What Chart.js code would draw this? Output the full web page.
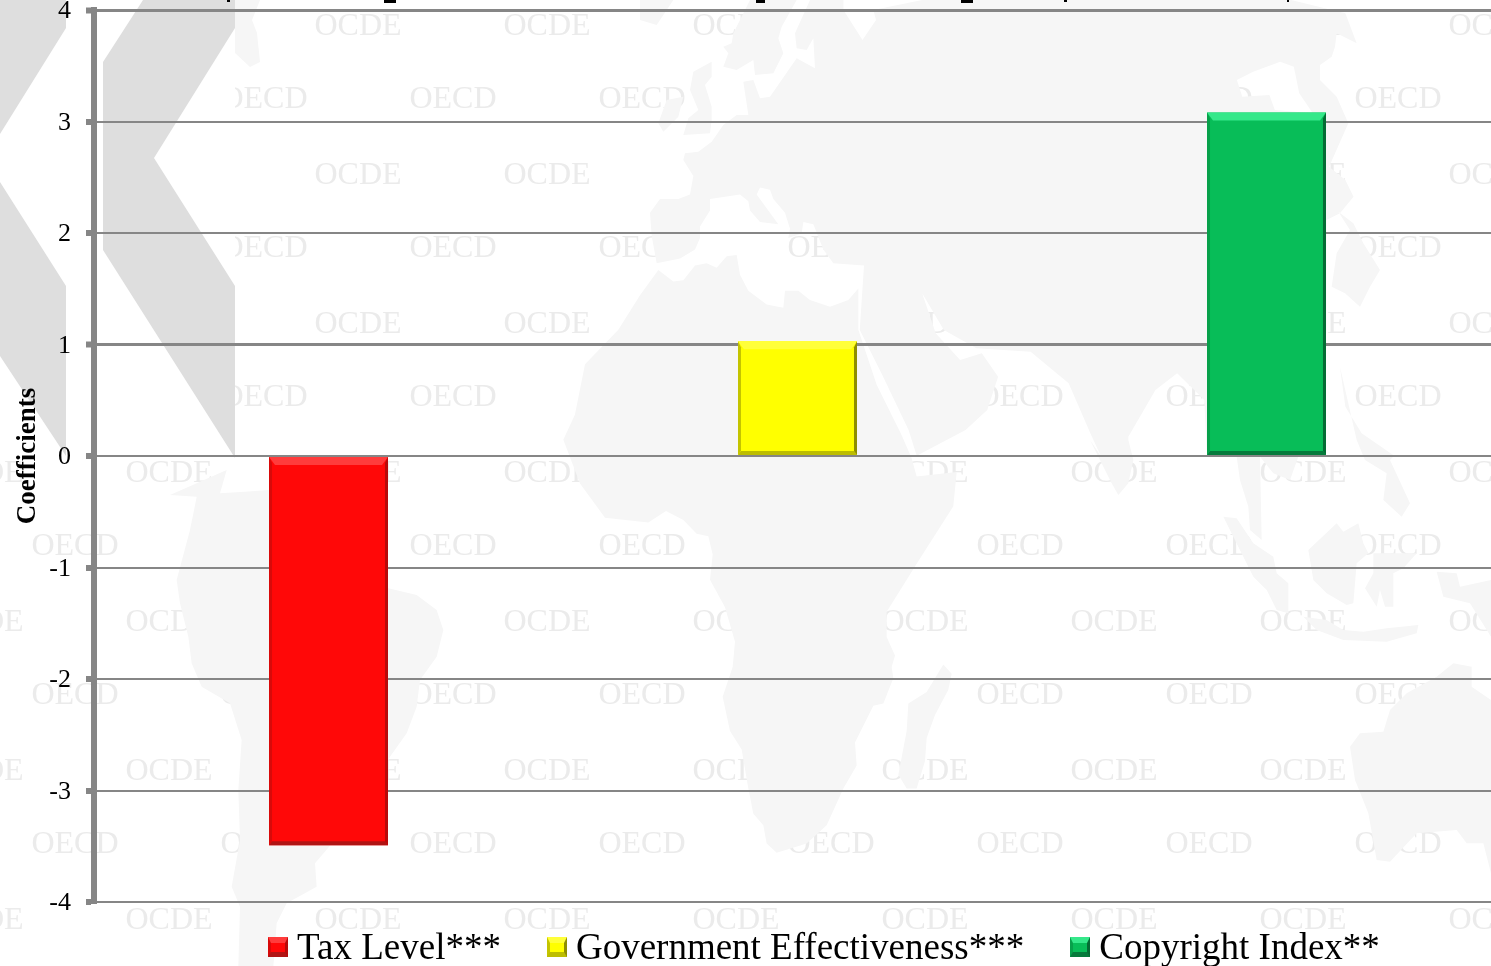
<!DOCTYPE html>
<html>
<head>
<meta charset="utf-8">
<title>Coefficients</title>
<script src="https://cdn.jsdelivr.net/npm/chart.js@4"></script>
<style>
html,body{margin:0;padding:0;width:1491px;height:966px;overflow:hidden;background:#fff;}
#chartBox{position:absolute;left:0;top:-30px;width:1520px;height:1000px;}
#legend{position:absolute;left:268px;top:924px;display:flex;gap:46px;white-space:nowrap;
  font-family:"Liberation Serif",serif;font-size:37px;line-height:46px;color:#000;}
#legend .item{display:flex;align-items:center;}
#legend .box{width:20px;height:20px;box-sizing:border-box;margin-right:9px;border-style:solid;border-width:6px 3px 5px 3px;}
</style>
</head>
<body>
<div id="chartBox"><canvas id="coefChart" width="1520" height="1000"></canvas></div>
<div id="legend"></div>
<script>
// chart data
const categories=["Tax Level***","Government Effectiveness***","Copyright Index**"];
const coefficients=[-3.49,1.03,3.08];
const yTicks=[4,3,2,1,0,-1,-2,-3,-4];
const yTitle="Coefficients";

// bar colours: face, top, bottom, left, right
const faceColors=["#ff0808","#ffff00","#08bd58"];
const topColors=["#ff3c3c","#ffff3a","#35e88a"];
const bottomColors=["#b01414","#bdbd00","#067a3c"];
const leftColors=["#d80a0a","#c4c400","#07a04a"];
const rightColors=["#b80a0a","#8e8e00","#056b34"];

const GRID="#868686";
const OFFSET_Y=30; // canvas sits 30px above the page so the clipped "4" works

// watermark / map helpers (page coordinates)
function zoomPts(ox,oy,sx,sy,pts){
  return pts.map(p=>[ox+p[0]/sx,oy+p[1]/sy]);
}
const z6=pts=>zoomPts(130,440,3,3,pts);
const z7=pts=>zoomPts(540,160,3,2.18,pts);
const z8=pts=>zoomPts(640,0,1.843,3,pts);
const z9=pts=>zoomPts(1040,440,3,3,pts);
const zA=pts=>zoomPts(640,10,3,3,pts);
const zB=pts=>zoomPts(1320,10,3,3,pts);

const africa=z7([[355,240],[300,295],[235,370],[135,445],[105,555],[70,610],[120,705],[195,780],[325,790],[378,765],[430,785],[470,815],[505,820],[518,860],[510,915],[555,975],[585,1050],[578,1105],[548,1170],[570,1245],[605,1285],[625,1370],[640,1425],[670,1450],[680,1490],[710,1510],[800,1490],[860,1450],[910,1370],[950,1320],[945,1270],[1000,1190],[1030,1185],[1060,1130],[1055,1105],[1065,1080],[1040,1040],[1040,985],[1130,880],[1240,755],[1250,680],[1130,690],[1115,650],[1085,600],[1010,490],[955,370],[955,280],[925,305],[870,320],[810,305],[775,285],[735,285],[730,322],[680,315],[625,285],[600,250],[590,207],[560,210],[530,235],[500,225],[465,230],[430,262],[400,265]]);
const madagascar=z7([[1105,1185],[1160,1160],[1210,1100],[1235,1120],[1225,1155],[1185,1210],[1160,1260],[1155,1310],[1130,1370],[1100,1370],[1075,1340],[1100,1245]]);
const eurasia=[].concat(
  z7([[350,225],[335,165],[330,115],[360,85],[415,85],[450,75],[460,35],[430,0]]),
  zA([[135,430],[175,425],[215,395],[250,345],[290,315],[325,315],[310,215],[340,210],[360,265],[390,260],[470,145],[525,175],[520,85],[500,120],[470,115],[465,70],[510,-30]]),
  z8([[375,0],[375,30],[410,120],[435,60],[430,30],[520,0],[1200,0],[1300,40]]),
  zB([[110,100],[50,70],[45,110],[35,140],[0,165],[0,210],[50,260],[85,340]]),
  z8([[1270,500],[1300,540],[1315,590],[1290,640],[1265,660],[1265,1000],[1200,1100]]),
  z9([[775,50],[750,120],[700,100],[660,50],[665,300],[630,270],[625,200],[600,120],[590,50],[500,30]]),
  z8([[1040,1200],[990,1120],[950,1170],[900,1310],[900,1367]]),
  z9([[265,0],[280,60],[265,130],[235,165],[215,130],[150,0]]),
  z8([[850,1370],[830,1300],[790,1150],[720,1055],[620,1045],[560,990],[520,880],[545,1000],[590,1080],[630,1060],[660,1130],[640,1230],[600,1290],[510,1367],[495,1290],[445,1120],[405,990]]),
  z7([[972,230],[880,225],[850,195],[820,140],[790,135],[785,160],[745,170],[750,150],[735,115],[700,85],[690,65],[660,60],[650,75],[680,105],[715,140],[660,135],[630,110],[625,90],[600,75],[510,85],[510,110],[480,145],[480,170],[465,195],[420,215]])
);
const bayHole=z8([[1100,240],[1130,215],[1180,185],[1205,200],[1215,280],[1240,340],[1170,330],[1160,285],[1110,290]]);
const scandinavia=zA([[250,170],[290,180],[340,150],[345,195],[400,190],[430,130],[415,85],[425,50],[470,-30],[330,-30],[280,70],[275,100],[250,110],[265,130]]);
const britain=zA([[160,185],[215,155],[215,200],[195,225],[215,290],[215,330],[210,370],[130,375],[145,325],[175,300],[150,240]]);
const ireland=zA([[80,270],[130,260],[115,320],[70,365],[55,340]]);
const iceland=zA([[0,30],[50,45],[100,-30],[0,-30]]);
const japan=zB([[55,605],[100,640],[130,700],[180,780],[150,830],[120,890],[75,850],[35,830],[50,730],[90,660]]);
const philippines=[].concat(
  z8([[1290,1100],[1300,1220],[1330,1300],[1390,1367]]),
  z9([[1050,60],[1110,190],[1085,230],[1030,180],[1040,100],[975,60],[950,0]])
);
const sumatra=z9([[550,230],[590,235],[640,310],[700,350],[710,400],[745,430],[745,520],[710,510],[680,450],[640,410]]);
const borneo=z9([[805,330],[890,250],[910,275],[955,250],[970,310],[985,340],[950,370],[940,490],[920,495],[860,460],[820,420]]);
const sulawesi=z9([[1000,340],[1130,340],[1090,385],[1060,400],[1060,500],[1035,500],[1020,450],[1010,500],[975,445],[1000,400]]);
const java=z9([[790,530],[860,540],[910,570],[970,575],[1040,565],[1135,555],[1130,580],[1040,605],[910,600],[830,570]]);
const guinea=z9([[1190,395],[1250,400],[1260,440],[1353,420],[1353,590],[1290,490],[1210,470]]);
const australia=z9([[1353,780],[1295,740],[1295,680],[1240,670],[1190,710],[1100,760],[1050,810],[1030,875],[960,880],[930,920],[945,1020],[985,1120],[1010,1260],[1050,1265],[1130,1180],[1250,1170],[1280,1210],[1330,1210],[1353,1300]]);
const america=z6([[50,100],[120,165],[200,130],[290,90],[270,160],[345,155],[415,150],[775,445],[860,465],[920,510],[940,570],[920,650],[870,720],[860,800],[830,880],[780,950],[700,1100],[555,1270],[560,1340],[470,1390],[440,1450],[430,1580],[325,1580],[330,1400],[305,1340],[330,1200],[325,1050],[335,900],[300,790],[215,740],[185,670],[175,590],[150,490],[140,420],[180,270],[200,170],[120,165]]);
const northAmerica=[[260,0],[252,20],[257,33],[260,62],[250,67],[235,53],[235,0]];
const landParts=[africa,madagascar,eurasia,bayHole,scandinavia,britain,ireland,iceland,japan,philippines,sumatra,borneo,sulawesi,java,guinea,australia,america,northAmerica];

const chevrons=[
  [[143,0],[235,0],[235,28],[154,158],[235,286],[235,458],[103,250],[103,62]],
  [[0,0],[66,0],[66,28],[0,134],[0,182],[66,286],[66,456],[0,356]]
];
// bits of the cut-off title at the very top edge
const titleScraps=[[384,0,12,3],[756,0,9,3],[961,0,12,3],[1064,0,3,2],[227,0,3,2],[1287,0,2,2]];

function tracePoly(ctx,pts){
  pts.forEach((p,i)=>i?ctx.lineTo(p[0],p[1]):ctx.moveTo(p[0],p[1]));
  ctx.closePath();
}

const backdropPlugin={
  id:"backdrop",
  beforeDraw(chart){
    const ctx=chart.ctx;
    ctx.save();
    ctx.translate(0,OFFSET_Y);
    ctx.font='32px "Liberation Serif"';
    ctx.textAlign="center";
    ctx.textBaseline="middle";
    ctx.fillStyle="#ebebeb";
    for(let r=0;r<7;r++){
      for(let c=-1;c<8;c++){
        ctx.fillText("OCDE",169+c*189,27+r*149);
      }
    }
    for(let r=0;r<6;r++){
      for(let c=0;c<8;c++){
        ctx.fillText("OECD",75+c*189,100+r*149);
      }
    }
    ctx.fillStyle="#f6f6f6";
    ctx.beginPath();
    landParts.forEach(p=>tracePoly(ctx,p));
    ctx.fill("evenodd");
    // logo block top left
    ctx.fillStyle="#ffffff";
    ctx.fillRect(0,0,235,456);
    ctx.fillStyle="#dedede";
    chevrons.forEach(p=>{
      ctx.beginPath();
      tracePoly(ctx,p);
      ctx.fill();
    });
    ctx.fillStyle="#000000";
    titleScraps.forEach(s=>ctx.fillRect(s[0],s[1],s[2],s[3]));
    ctx.restore();
  }
};

// bevel on the bars, taken from where the library put them
const bevelPlugin={
  id:"bevel",
  afterDatasetsDraw(chart){
    const ctx=chart.ctx;
    chart.getDatasetMeta(0).data.forEach((bar,i)=>{
      const b=bar.getProps(["x","y","base","width"],true);
      const l=b.x-b.width/2, r=b.x+b.width/2;
      const t=Math.min(b.y,b.base), m=Math.max(b.y,b.base);
      const band=(pts,col)=>{
        ctx.fillStyle=col;
        ctx.beginPath();
        tracePoly(ctx,pts);
        ctx.fill();
      };
      band([[l,t],[r,t],[r-6,t+8],[l+6,t+8]],topColors[i]);
      band([[l,m],[r,m],[r-3,m-4],[l+3,m-4]],bottomColors[i]);
      band([[l,t],[l+3,t+6],[l+3,m-4],[l,m]],leftColors[i]);
      band([[r,t],[r-3,t+6],[r-3,m-4],[r,m]],rightColors[i]);
    });
  }
};

new Chart(document.getElementById("coefChart"),{
  type:"bar",
  data:{
    labels:categories,
    datasets:[{
      data:coefficients,
      backgroundColor:faceColors,
      borderWidth:0,
      barPercentage:0.2537,
      categoryPercentage:1
    }]
  },
  options:{
    responsive:false,
    animation:false,
    layout:{padding:{top:40,bottom:68,left:0,right:19}},
    plugins:{legend:{display:false},tooltip:{enabled:false}},
    scales:{
      x:{display:false},
      y:{
        min:-4,
        max:4,
        afterFit(scale){scale.width=94;},
        afterBuildTicks(scale){scale.ticks=yTicks.map(v=>({value:v}));},
        border:{color:GRID,width:6},
        grid:{
          color:GRID,
          lineWidth:c=>(c.tick&&(c.tick.value===4||c.tick.value===1))?3:2,
          tickColor:GRID,
          tickWidth:6,
          tickLength:8
        },
        ticks:{
          color:"#000",
          padding:15,
          labelOffset:1.5,
          font:{family:'"Liberation Serif"',size:26}
        },
        title:{
          display:true,
          text:yTitle,
          color:"#000",
          padding:{top:12,bottom:0},
          font:{family:'"Liberation Serif"',size:27,weight:"bold"}
        }
      }
    }
  },
  plugins:[backdropPlugin,bevelPlugin]
});

// legend under the chart
const legend=document.getElementById("legend");
categories.forEach((name,i)=>{
  const item=document.createElement("div");
  item.className="item";
  const box=document.createElement("span");
  box.className="box";
  box.style.background=faceColors[i];
  box.style.borderColor=topColors[i]+" "+rightColors[i]+" "+bottomColors[i]+" "+leftColors[i];
  const label=document.createElement("span");
  label.textContent=name;
  item.appendChild(box);
  item.appendChild(label);
  legend.appendChild(item);
});
</script>
</body>
</html>
